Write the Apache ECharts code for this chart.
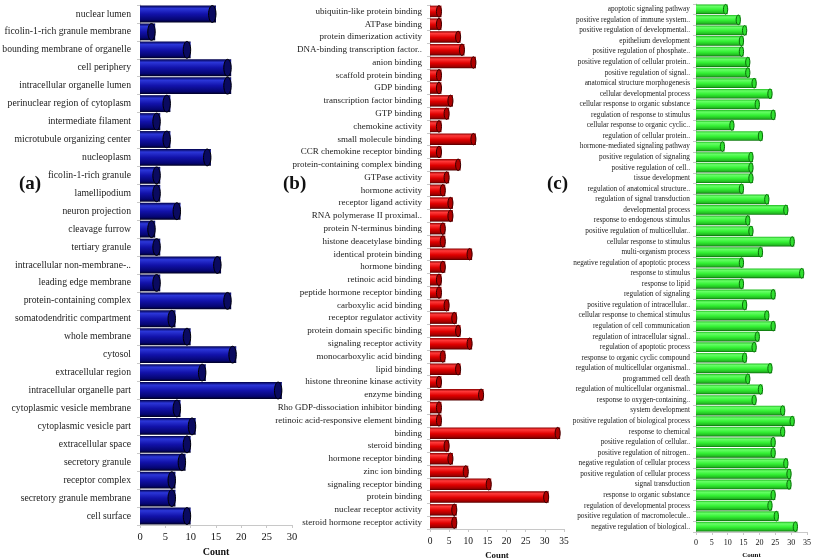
<!DOCTYPE html>
<html>
<head>
<meta charset="utf-8">
<script src="https://cdn.jsdelivr.net/npm/echarts@6/dist/echarts.min.js"></script>
<style>html,body{margin:0;padding:0;background:#fff;}#c{width:813px;height:559px;}</style>
</head>
<body>
<div id="c"></div>
<script>
// Panel (a) – cellular component
var catA = ["nuclear lumen","ficolin-1-rich granule membrane","bounding membrane of organelle","cell periphery","intracellular organelle lumen","perinuclear region of cytoplasm","intermediate filament","microtubule organizing center","nucleoplasm","ficolin-1-rich granule","lamellipodium","neuron projection","cleavage furrow","tertiary granule","intracellular non-membrane-..","leading edge membrane","protein-containing complex","somatodendritic compartment","whole membrane","cytosol","extracellular region","intracellular organelle part","cytoplasmic vesicle membrane","cytoplasmic vesicle part","extracellular space","secretory granule","receptor complex","secretory granule membrane","cell surface"];
var valA = [15,3,10,18,18,6,4,6,14,4,4,8,3,4,16,4,18,7,10,19,13,28,8,11,10,9,7,7,10];

// Panel (b) – molecular function
var catB = ["ubiquitin-like protein binding","ATPase binding","protein dimerization activity","DNA-binding transcription factor..","anion binding","scaffold protein binding","GDP binding","transcription factor binding","GTP binding","chemokine activity","small molecule binding","CCR chemokine receptor binding","protein-containing complex binding","GTPase activity","hormone activity","receptor ligand activity","RNA polymerase II proximal..","protein N-terminus binding","histone deacetylase binding","identical protein binding","hormone binding","retinoic acid binding","peptide hormone receptor binding","carboxylic acid binding","receptor regulator activity","protein domain specific binding","signaling receptor activity","monocarboxylic acid binding","lipid binding","histone threonine kinase activity","enzyme binding","Rho GDP-dissociation inhibitor binding","retinoic acid-responsive element binding","binding","steroid binding","hormone receptor binding","zinc ion binding","signaling receptor binding","protein binding","nuclear receptor activity","steroid hormone receptor activity"];
var valB = [3,3,8,9,12,3,3,6,5,3,12,3,8,5,4,6,6,4,4,11,4,3,3,5,7,8,11,4,8,3,14,3,3,34,5,6,10,16,31,7,7];

// Panel (c) – biological process
var catC = ["apoptotic signaling pathway","positive regulation of immune system..","positive regulation of developmental..","epithelium development","positive regulation of phosphate..","positive regulation of cellular protein..","positive regulation of signal..","anatomical structure morphogenesis","cellular developmental process","cellular response to organic substance","regulation of response to stimulus","cellular response to organic cyclic..","regulation of cellular protein..","hormone-mediated signaling pathway","positive regulation of signaling","positive regulation of cell..","tissue development","regulation of anatomical structure..","regulation of signal transduction","developmental process","response to endogenous stimulus","positive regulation of multicellular..","cellular response to stimulus","multi-organism process","negative regulation of apoptotic process","response to stimulus","response to lipid","regulation of signaling","positive regulation of intracellular..","cellular response to chemical stimulus","regulation of cell communication","regulation of intracellular signal..","regulation of apoptotic process","response to organic cyclic compound","regulation of multicellular organismal..","programmed cell death","regulation of multicellular organismal..","response to oxygen-containing..","system development","positive regulation of biological process","response to chemical","positive regulation of cellular..","positive regulation of nitrogen..","negative regulation of cellular process","positive regulation of cellular process","signal transduction","response to organic substance","regulation of developmental process","positive regulation of macromolecule..","negative regulation of biological.."];
var valC = [10,14,16,15,15,17,17,19,24,20,25,12,21,9,18,18,18,15,23,29,17,18,31,21,15,34,15,25,16,23,25,20,19,16,24,17,21,19,28,31,28,25,25,29,30,30,25,24,26,32];

var xTicksA = {min:0, max:30, interval:5};
var xTicksBC = {min:0, max:35, interval:5};

var SERIF = '"Liberation Serif", "Times New Roman", serif';

function grad(stops){
  return {type:'linear', x:0, y:0, x2:0, y2:1, colorStops: stops.map(function(s){return {offset:s[0], color:s[1]};})};
}
var blue = grad([[0,'#00004a'],[0.18,'#2b36d8'],[0.5,'#1212aa'],[0.85,'#050570'],[1,'#000020']]);
var red = grad([[0,'#8a0000'],[0.2,'#ff3a3a'],[0.55,'#e00000'],[0.85,'#a00000'],[1,'#500000']]);
var green = grad([[0,'#22bb22'],[0.2,'#66ff66'],[0.55,'#33f033'],[0.85,'#22bb22'],[1,'#0a6a0a']]);

function capSeries(idx, vals, frac, capFill, capStroke){
  return {
    type:'custom', xAxisIndex:idx, yAxisIndex:idx, z:5, silent:true,
    data: vals.map(function(v,i){return [v,i];}),
    renderItem: function(params, api){
      var p = api.coord([api.value(0), api.value(1)]);
      var h = api.size([0,1])[1]*frac;
      var rx = Math.max(2, h*0.22);
      return {type:'ellipse', shape:{cx:p[0]-rx, cy:p[1], rx:rx, ry:h/2},
        style:{fill:capFill, stroke:capStroke, lineWidth:1}};
    }
  };
}

function xAxis(idx, t, fs, nameFs, gap){
  return {
    gridIndex:idx, type:'value', min:t.min, max:t.max, interval:t.interval,
    name:'Count', nameLocation:'middle', nameGap:gap,
    nameTextStyle:{fontFamily:SERIF, fontWeight:'bold', fontSize:nameFs, color:'#111'},
    axisLine:{show:true, lineStyle:{color:'#c8c8c8'}},
    axisTick:{show:true, length:3, lineStyle:{color:'#c8c8c8'}},
    splitLine:{show:false},
    axisLabel:{fontFamily:SERIF, fontSize:fs, color:'#111', margin:7}
  };
}
function yAxis(idx, cats, fs, margin){
  return {
    gridIndex:idx, type:'category', data:cats, inverse:true,
    axisLine:{show:true, lineStyle:{color:'#c8c8c8'}},
    axisTick:{show:true, length:3, lineStyle:{color:'#c8c8c8'}},
    axisLabel:{fontFamily:SERIF, fontSize:fs, color:'#222', margin:margin, interval:0}
  };
}

var chart = echarts.init(document.getElementById('c'), null, {renderer:'canvas'});
chart.setOption({
  animation:false,
  backgroundColor:'#fff',
  grid:[
    {left:140, right:521, top:5, bottom:34, containLabel:false, outerBoundsMode:'none'},
    {left:430, right:249, top:5, bottom:30, containLabel:false, outerBoundsMode:'none'},
    {left:696, right:6, top:4, bottom:27, containLabel:false, outerBoundsMode:'none'}
  ],
  xAxis:[ xAxis(0,xTicksA,10.5,10,22), xAxis(1,xTicksBC,9.5,8.8,20), xAxis(2,xTicksBC,8,7,18) ],
  yAxis:[ yAxis(0,catA,9.7,9), yAxis(1,catB,9,8), yAxis(2,catC,7.3,6) ],
  graphic:[
    {type:'text', left:19, top:175, style:{text:'(a)', font:'bold 19px '+SERIF, fill:'#111'}},
    {type:'text', left:283, top:175, style:{text:'(b)', font:'bold 19px '+SERIF, fill:'#111'}},
    {type:'text', left:547, top:175, style:{text:'(c)', font:'bold 19px '+SERIF, fill:'#111'}}
  ],
  series:[
    {type:'bar', xAxisIndex:0, yAxisIndex:0, data:valA, barCategoryGap:'6%', itemStyle:{color:blue}},
    capSeries(0, valA, 0.94, '#0a0a60', '#000000'),
    {type:'bar', xAxisIndex:1, yAxisIndex:1, data:valB, barCategoryGap:'10%', itemStyle:{color:red}},
    capSeries(1, valB, 0.9, '#b00000', '#3a0000'),
    {type:'bar', xAxisIndex:2, yAxisIndex:2, data:valC, barCategoryGap:'8%', itemStyle:{color:green}},
    capSeries(2, valC, 0.92, '#30e030', '#0a6a0a')
  ]
});
</script>
</body>
</html>
